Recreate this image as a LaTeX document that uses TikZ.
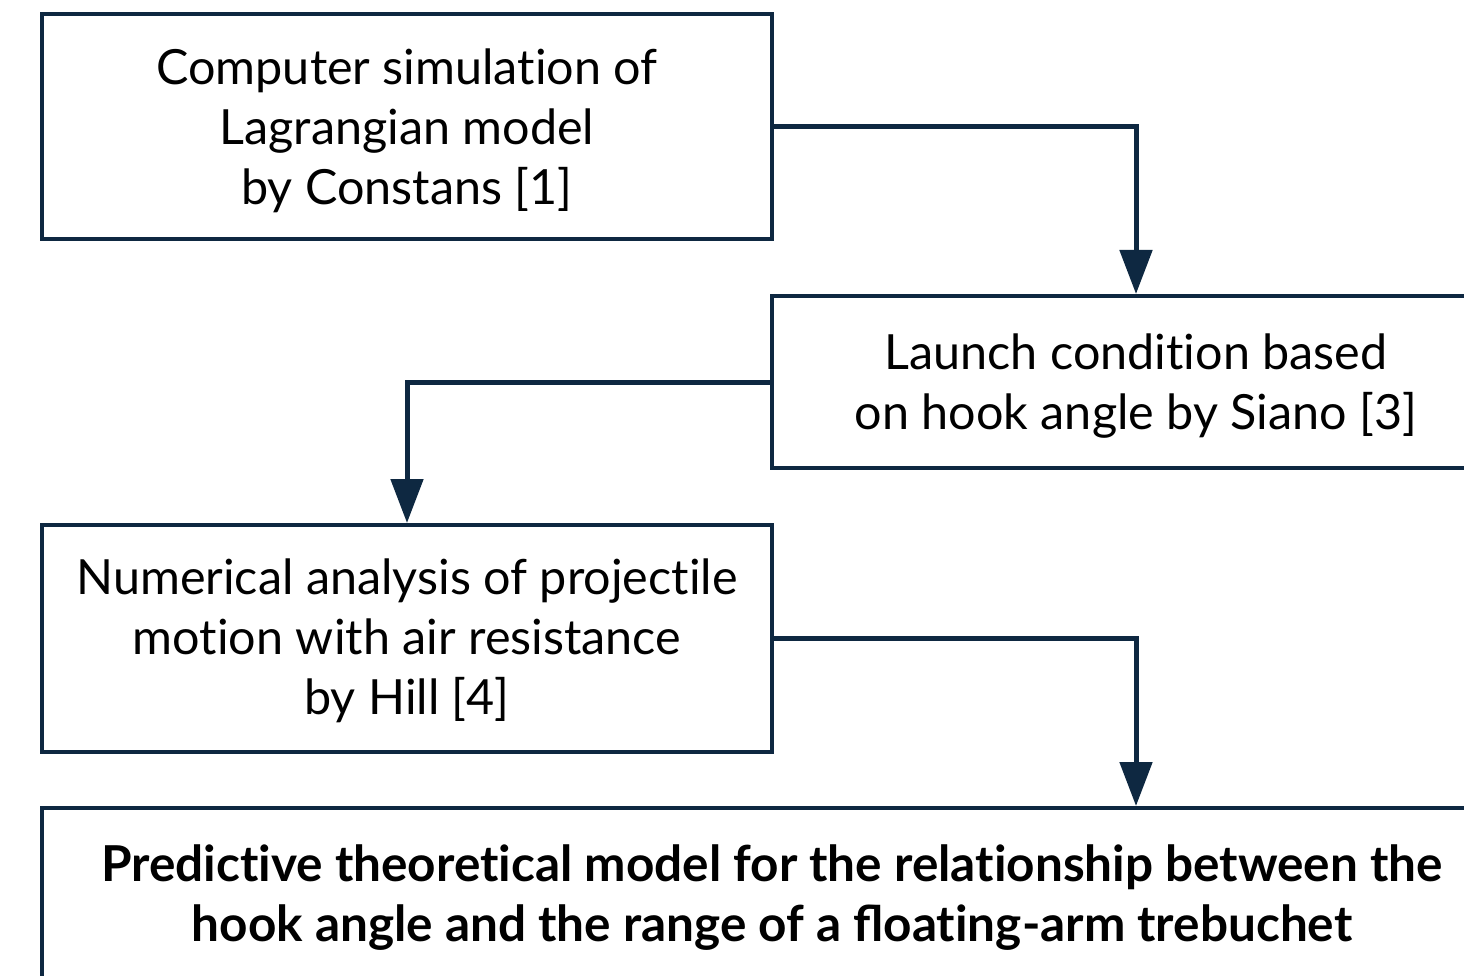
\documentclass[tikz,border=0pt]{standalone}
\usepackage{fontspec}
\setmainfont{Lato}
\usetikzlibrary{arrows.meta}
\definecolor{navy}{HTML}{0E2841}
\newcommand{\tI}{t\kern0pt i}
\newcommand{\boxtext}[2]{\raisebox{#1}[\height][\depth]{\begin{tabular}{@{}c@{}}#2\end{tabular}}}
\begin{document}
\begin{tikzpicture}[x=1pt,y=-1pt,
  box/.style={draw=navy, line width=4pt, fill=white, inner sep=0pt,
    font=\fontsize{48.5}{60}\selectfont, text=black},
  conn/.style={draw=navy, line width=5pt, -{Triangle[length=44pt,width=32pt]}}]
\useasboundingbox (0,0) rectangle (1464,976);
\clip (0,0) rectangle (1464,976);
\fill[white] (0,0) rectangle (1464,976);
\node[box, minimum width=730pt, minimum height=225pt] (b1) at (407,126.5)
  {\boxtext{-6pt}{Computer simula\tI on of\\Lagrangian model\\by Constans [1]}};
\node[box, minimum width=728pt, minimum height=172pt] (b2) at (1136,382)
  {\boxtext{-5pt}{Launch condi\tI on based\\on hook angle by Siano [3]}};
\node[box, minimum width=730pt, minimum height=227pt] (b3) at (407,638.5)
  {\boxtext{-4pt}{Numerical analysis of projec\tI le\\mo\tI on with air resistance\\by Hill [4]}};
\node[box, minimum width=1460pt, minimum height=174pt, font=\fontsize{49.5}{60}\selectfont\bfseries] (b4) at (772,895)
  {\boxtext{-4pt}{Predic\tI ve theore\tI cal model for the rela\tI onship between the\\hook angle and the range of a floa\tI ng-arm trebuchet}};
\coordinate (t4) at (b2.north |- b4.north);
\draw[conn] (b1.east) -| (b2.north);
\draw[conn] (b2.west) -| (b3.north);
\draw[conn] (b3.east) -| (t4);
\end{tikzpicture}
\end{document}
